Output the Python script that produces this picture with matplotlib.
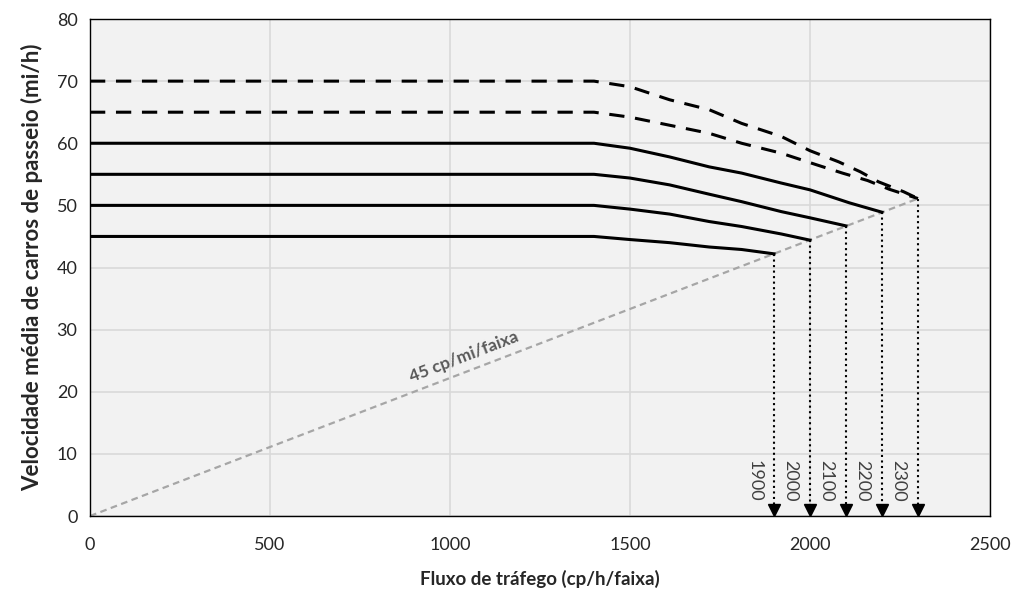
import matplotlib.pyplot as plt

# curvas velocidade-fluxo
x70 = [0, 1400, 1500, 1610, 1720, 1810, 1920, 2000, 2080, 2140, 2190, 2260, 2300]
y70 = [70, 70, 69.1, 67.0, 65.4, 63.2, 61.1, 58.8, 57.0, 55.4, 53.8, 52.2, 51.1]
x65 = [0, 1400, 1500, 1610, 1720, 1810, 1920, 2020, 2090, 2160, 2220, 2300]
y65 = [65, 65, 64.2, 62.9, 61.6, 60.0, 58.4, 56.5, 55.2, 54.0, 52.6, 51.1]
x60 = [0, 1400, 1500, 1610, 1720, 1810, 1920, 2000, 2110, 2200]
y60 = [60, 60, 59.2, 57.8, 56.2, 55.2, 53.6, 52.5, 50.4, 48.9]
x55 = [0, 1400, 1500, 1610, 1720, 1810, 1920, 2000, 2100]
y55 = [55, 55, 54.4, 53.3, 51.8, 50.6, 49.0, 48.0, 46.7]
x50 = [0, 1400, 1500, 1610, 1720, 1810, 1920, 2000]
y50 = [50, 50, 49.4, 48.6, 47.4, 46.6, 45.4, 44.4]
x45 = [0, 1400, 1500, 1610, 1720, 1810, 1900]
y45 = [45, 45, 44.5, 44.0, 43.3, 42.9, 42.2]

# capacidades
cap_flow = [1900, 2000, 2100, 2200, 2300]
cap_speed = [42.2, 44.4, 46.7, 48.9, 51.1]
cap_labels = ['1900', '2000', '2100', '2200', '2300']

# linha de densidade 45 cp/mi/faixa
dens_x = [0, 2300]
dens_y = [0, 51.1]

plt.rcParams['font.family'] = ['Lato', 'DejaVu Sans']

fig = plt.figure(figsize=(10.18, 5.94), dpi=100)
ax = fig.add_axes([0.0884, 0.1313, 0.8841, 0.8367])
ax.set_facecolor('#f2f2f2')

ax.set_xlim(0, 2500)
ax.set_ylim(0, 80)
ax.set_xticks(range(0, 2501, 500))
ax.set_yticks(range(0, 81, 10))
ax.grid(True, color='#d9d9d9', linewidth=1.2)
ax.set_axisbelow(True)
for s in ax.spines.values():
    s.set_color('black')
    s.set_linewidth(1.0)
ax.tick_params(length=0, labelsize=13, colors='#262626')
ax.tick_params(axis='x', pad=15)
ax.tick_params(axis='y', pad=9)

ax.plot(dens_x, dens_y, color='#a6a6a6', linestyle=(0, (3, 2)), linewidth=1.6)

for xs, ys in [(x70, y70), (x65, y65)]:
    ax.plot(xs, ys, color='black', linewidth=2.2, linestyle=(0, (5, 3.5)))
for xs, ys in [(x60, y60), (x55, y55), (x50, y50), (x45, y45)]:
    ax.plot(xs, ys, color='black', linewidth=2.2)

for f, v, lab in zip(cap_flow, cap_speed, cap_labels):
    ax.plot([f, f], [v, 1.5], color='black', linestyle=':', linewidth=1.5)
    ax.plot([f], [0.9], marker='v', color='black', markersize=8, clip_on=False)
    ax.text(f - 55, 5.6, lab, rotation=-90, ha='center', va='center',
            fontsize=13, color='#404040')

ax.text(1040, 25.6, '45 cp/mi/faixa', rotation=21, ha='center', va='center',
        fontsize=12.5, fontweight='bold', color='#595959')

ax.set_xlabel('Fluxo de tráfego (cp/h/faixa)', fontsize=13.5, fontweight='bold',
              color='#262626', labelpad=12)
ax.set_ylabel('Velocidade média de carros de passeio (mi/h)', fontsize=16,
              fontweight='bold', color='#262626', labelpad=10)

fig.savefig('out.png', dpi=100)
